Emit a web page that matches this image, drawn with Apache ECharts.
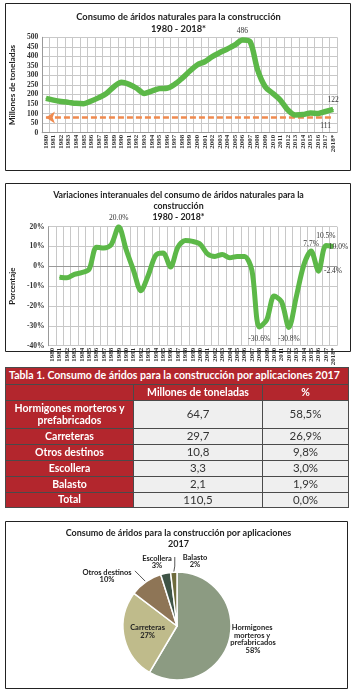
<!DOCTYPE html>
<html><head><meta charset="utf-8">
<script src="https://cdn.jsdelivr.net/npm/echarts@6/dist/echarts.min.js"></script>
<style>
html,body{margin:0;padding:0;background:#fff;}
#c{position:absolute;left:0;top:0;width:357px;height:697px;}
#t{position:absolute;left:5px;top:367px;width:343px;border-collapse:collapse;font-family:Lato,"Open Sans",sans-serif;table-layout:fixed;}
#t td{border:1px solid #4a4a4a;padding:0;text-align:center;line-height:1.05;}
#t td.r{background:#b3262d;color:#fff;font-weight:bold;font-size:10.5px;}
#t td.d{background:#efefef;color:#333;font-size:11.5px;}
#t td.tt{background:#b3262d;color:#fff;font-weight:bold;font-size:10.6px;text-align:left;padding-left:3px;letter-spacing:0px;white-space:nowrap;overflow:hidden;}
</style></head>
<body>
<div id="c"></div>
<table id="t"></table>
<script>
// ---------- DATA ----------
const years = ['1980','1981','1982','1983','1984','1985','1986','1987','1988','1989','1990','1991','1992','1993','1994','1995','1996','1997','1998','1999','2000','2001','2002','2003','2004','2005','2006','2007','2008','2009','2010','2011','2012','2013','2014','2015','2016','2017','2018*'];
const consumo = [180,171,164,159,154,152,166,184,206,241,264,253,233,206,218,231,233,253,285,322,355,372,399,420,439,460,486,477,329,241,206,171,119,93,95,103,101,111,122];
const variacion = [null,-5.5,-5.8,-4.0,-3.2,-1.5,9.7,9.2,11.0,20.0,8.5,-2.0,-12.3,-4.5,5.5,6.7,-0.3,9.7,13.0,12.6,11.2,6.3,5.0,6.0,4.3,5.0,5.0,-2.0,-30.6,-27.0,-15.0,-17.8,-30.8,-15.3,0.5,7.7,-2.4,10.5,10.0];
const refLevel = 80;
const consumoLabelYears = ['2006','2017','2018*'];
const varLabelYears = ['1989','2008','2012','2015','2016','2017','2018*'];
const varLabelTexts = ['20.0%','-30.6%','-30.8%','7,7%','-2.4%','10.5%','10.0%'];
const consumoTicks = {min:0,max:500,interval:50};
const varTicks = {min:-40,max:20,interval:10};

const tableTitle = 'Tabla 1. Consumo de áridos para la construcción por aplicaciones 2017';
const tableHeaders = ['Millones de toneladas','%'];
const aplicaciones = ['Hormigones morteros y prefabricados','Carreteras','Otros destinos','Escollera','Balasto'];
const millones = [64.7,29.7,10.8,3.3,2.1];
const millonesTxt = ['64,7','29,7','10,8','3,3','2,1'];
const porcentajeTxt = ['58,5%','26,9%','9,8%','3,0%','1,9%'];
const totalRow = ['Total','110,5','0,0%'];

// ---------- TABLE ----------
(function(){
  const t = document.getElementById('t');
  let h = '<colgroup><col style="width:128px"><col style="width:129px"><col style="width:86px"></colgroup>';
  h += '<tr style="height:17px"><td class="tt" colspan="3">'+tableTitle+'</td></tr>';
  h += '<tr style="height:16px"><td class="r"></td><td class="r">'+tableHeaders[0]+'</td><td class="r">'+tableHeaders[1]+'</td></tr>';
  aplicaciones.forEach((a,i)=>{
    const hh = i===0 ? 28 : 16;
    const txt = i===0 ? 'Hormigones morteros y<br>prefabricados' : a;
    h += '<tr style="height:'+hh+'px"><td class="r">'+txt+'</td><td class="d">'+millonesTxt[i]+'</td><td class="d">'+porcentajeTxt[i]+'</td></tr>';
  });
  h += '<tr style="height:15px"><td class="r">'+totalRow[0]+'</td><td class="d">'+totalRow[1]+'</td><td class="d">'+totalRow[2]+'</td></tr>';
  t.innerHTML = h;
})();

// ---------- CHARTS ----------
const chart = echarts.init(document.getElementById('c'), null, {renderer:'canvas'});
const serif = 'Liberation Serif';
const sans = 'Lato';
const green = '#5cb848';
const pieCenter = [177,626];
const pieR = 54;

const c1Pos = {'2006':['top',4],'2017':['bottom',10],'2018*':['top',5]};
const c1Data = consumo.map((v,i)=>{
  const p = c1Pos[years[i]];
  return (p && consumoLabelYears.includes(years[i])) ? {value:v,label:{show:true,position:p[0],distance:p[1]}} : v;
});
const c2Pos = {'1989':['top',4],'2008':['bottom',7],'2012':['bottom',7],'2015':['top',3],'2016':['right',5],'2017':['top',5],'2018*':['right',-5]};
const c2Data = variacion.map((v,i)=>{
  const k = varLabelYears.indexOf(years[i]);
  if (k<0) return v;
  const p = c2Pos[years[i]];
  return {value:v,label:{show:true,position:p[0],distance:p[1],formatter:varLabelTexts[k]}};
});

const catAxis = (gi)=>({
  type:'category', gridIndex:gi, data:years, boundaryGap:true,
  axisTick:{show:false},
  axisLine:{lineStyle:{color:'#999',width:1}},
  axisLabel:{interval:0, rotate:90, fontSize:7, fontWeight:'bold', fontFamily:serif, color:'#333', margin:2},
  splitLine:{show:true, interval:0, lineStyle:{color:'#c8c8c8',width:1}}
});

// label offsets (style) relative to the pie centre, per slice
const pieLabelOffsets = [[76,13],[null,null],[-70,-50],[-20,-64],[18,-65]];

const option = {
  animation:false,
  backgroundColor:'#fff',
  graphic:[
    {type:'rect',z:-10,shape:{x:5.5,y:3.5,width:345,height:167},style:{fill:'transparent',stroke:'#222',lineWidth:1}},
    {type:'rect',z:-10,shape:{x:5.5,y:183.5,width:345,height:168},style:{fill:'transparent',stroke:'#222',lineWidth:1}},
    {type:'rect',z:-10,shape:{x:5.5,y:521.5,width:342,height:167},style:{fill:'transparent',stroke:'#222',lineWidth:1}}
  ],
  title:[
    {text:'Consumo de áridos naturales para la construcción\n1980 - 2018*', left:'center', top:11, padding:0,
     textStyle:{fontFamily:sans,fontWeight:'bold',fontSize:9.3,lineHeight:12,color:'#222'}},
    {text:'Variaciones interanuales del consumo de áridos naturales para la\nconstrucción\n1980 - 2018*', left:'center', top:190, padding:0,
     textStyle:{fontFamily:sans,fontWeight:'bold',fontSize:8.8,lineHeight:11,color:'#222'}},
    {text:'Consumo de áridos para la construcción por aplicaciones\n2017', left:'center', top:528, padding:0,
     textStyle:{fontFamily:sans,fontWeight:'bold',fontSize:9,lineHeight:11,color:'#222'}}
  ],
  grid:[
    {left:39.5, right:20, top:37.3, height:95.4},
    {left:39.5, right:20, top:226.7, height:119}
  ],
  xAxis:[catAxis(0), catAxis(1)],
  yAxis:[
    {type:'value', gridIndex:0, min:consumoTicks.min, max:consumoTicks.max, interval:consumoTicks.interval,
     axisLine:{show:true,lineStyle:{color:'#999'}}, axisTick:{show:false},
     axisLabel:{fontSize:7.5,fontWeight:'bold',fontFamily:serif,color:'#333',margin:4},
     splitLine:{lineStyle:{color:'#c8c8c8'}},
     name:'Millones de toneladas', nameLocation:'middle', nameGap:22,
     nameTextStyle:{fontFamily:sans,fontWeight:'bold',fontSize:8.3,color:'#222'}},
    {type:'value', gridIndex:1, min:varTicks.min, max:varTicks.max, interval:varTicks.interval,
     axisLine:{show:true,lineStyle:{color:'#999'}}, axisTick:{show:false},
     axisLabel:{fontSize:7.5,fontWeight:'bold',fontFamily:serif,color:'#333',margin:4,formatter:'{value}%'},
     splitLine:{lineStyle:{color:'#c8c8c8'}},
     name:'Porcentaje', nameLocation:'middle', nameGap:24,
     nameTextStyle:{fontFamily:sans,fontWeight:'bold',fontSize:7.8,color:'#222'}}
  ],
  series:[
    {type:'line', xAxisIndex:0, yAxisIndex:0, data:c1Data, smooth:0.3, symbol:'circle', symbolSize:1, showSymbol:true,
     itemStyle:{color:green},
     lineStyle:{color:green,width:5.5},
     label:{show:false,fontFamily:serif,fontSize:7.5,color:'#333'},
     markLine:{silent:true, symbol:['arrow','none'], symbolSize:[9,9], z:1,
       label:{show:false},
       lineStyle:{color:'#ef8a4f',type:[6,3],width:2.5},
       data:[[{coord:[years[0],refLevel]},{coord:[years[years.length-1],refLevel]}]]}},
    {type:'line', xAxisIndex:1, yAxisIndex:1, data:c2Data, smooth:0.3, symbol:'circle', symbolSize:1, showSymbol:true, connectNulls:false,
     itemStyle:{color:green},
     lineStyle:{color:green,width:5},
     label:{show:false,fontFamily:serif,fontSize:7.5,color:'#333'}},
    {type:'pie', center:pieCenter, radius:pieR, startAngle:90, clockwise:true, percentPrecision:0,
     avoidLabelOverlap:false,
     itemStyle:{borderColor:'#fff',borderWidth:1.5},
     label:{fontFamily:sans,fontWeight:'bold',fontSize:7.5,lineHeight:7.8,color:'#222',formatter:'{b}\n{d}%'},
     labelLine:{show:true,showAbove:true,length:8,length2:3,lineStyle:{color:'#555',width:1}},
     labelLayout:function(p){
       const o = pieLabelOffsets[p.dataIndex];
       if (!o || o[0]===null) return {};
       const x = pieCenter[0]+o[0], y = pieCenter[1]+o[1];
       const res = {x:x, y:y, align:'center', verticalAlign:'middle'};
       const s = p.labelLinePoints && p.labelLinePoints[0];
       if (s && p.dataIndex===2) res.labelLinePoints = [s,[s[0]-6,s[1]-6],[s[0]-11,s[1]-11]];
       if (s && p.dataIndex===4) res.labelLinePoints = [s,[s[0]+1,s[1]-6],[s[0]+1,y-4]];
       return res;
     },
     data:aplicaciones.map((n,i)=>{
       const cfg = [
         {label:{position:'outside',width:56,overflow:'break'},labelLine:{show:false,length:2,length2:0}},
         {label:{position:'inside'}},
         {label:{position:'outside'},labelLine:{show:true,length:12,length2:3,lineStyle:{color:'#555',width:1}}},
         {label:{position:'outside'},labelLine:{show:false,length:3,length2:0}},
         {label:{position:'outside'},labelLine:{show:true,length:6,length2:2,lineStyle:{color:'#555',width:1}}}
       ][i];
       return Object.assign({name:n,value:millones[i]},cfg);
     }),
     color:['#8c9b82','#bfbb8b','#8e7556','#3f5446','#6e6b3c']}
  ]
};
chart.setOption(option);
</script>
</body></html>
